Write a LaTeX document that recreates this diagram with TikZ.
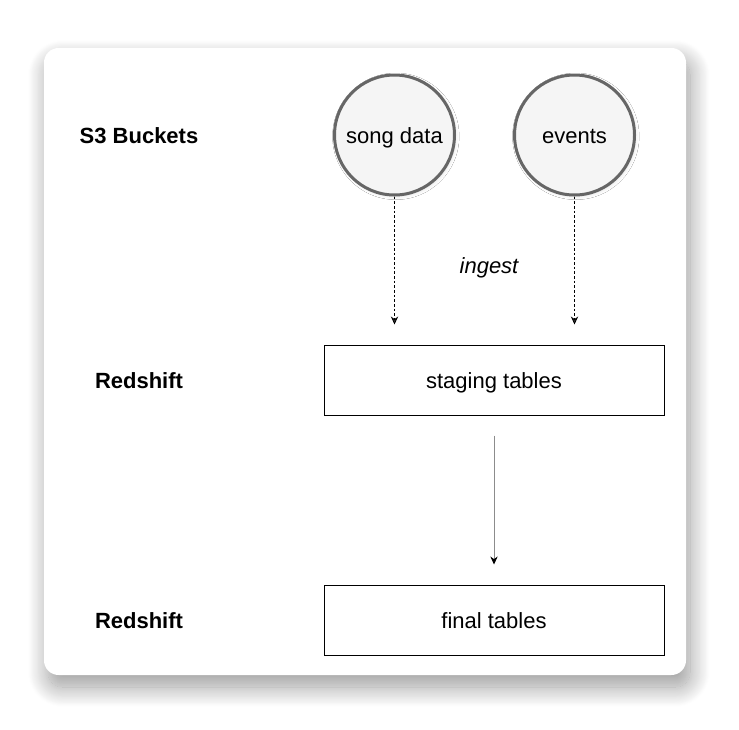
\documentclass[tikz,border=0pt]{standalone}
\usepackage{fontspec}
\setmainfont{Liberation Sans}
\usetikzlibrary{arrows.meta,shadows.blur}
\begin{document}
\begin{tikzpicture}[x=0.75pt, y=-0.75pt,
    every node/.style={font=\fontsize{16.5}{20}\selectfont},
    centred/.style ={text height=13pt, text depth=0pt},
    source/.style ={circle, centred, draw=black!60, line width=2.25pt, fill=black!4,
      inner sep=0pt, minimum size=90pt,
      blur shadow={shadow xshift=1pt, shadow yshift=-1pt, shadow blur radius=2.5pt,
        shadow blur steps=6, shadow opacity=12}},
    table/.style ={rectangle, centred, draw, line width=0.75pt, fill=white,
      minimum width=255pt, minimum height=52.5pt},
    layer/.style ={centred, font=\fontsize{16.5}{20}\selectfont\bfseries},
    ingestarrow/.style ={dash pattern=on 2pt off 1.5pt, line width=0.6pt,
      -{Stealth[length=6pt,width=5.5pt]}},
    loadarrow/.style ={draw=black!45, line width=0.75pt,
      -{Stealth[length=6pt,width=5.5pt,color=black]}}]
   \useasboundingbox (0,0) rectangle (739,729);
   % card
   \fill[white, rounded corners=11pt,
     blur shadow={shadow xshift=3pt, shadow yshift=-9pt, shadow blur radius=15pt,
       shadow blur steps=24, shadow opacity=40}]
     (44,48) rectangle (686,675);
   % layer labels
   \node[layer] (s3label)  at (139,135)  {S3 Buckets};
   \node[layer] (rs1label) at (139,380)  {Redshift};
   \node[layer] (rs2label) at (139,620)  {Redshift};
   % sources and tables
   \node[source] (song)    at (394.5,135)  {song data};
   \node[source] (events)  at (574.5,135)  {events};
   \node[table]  (staging) at (494,380)  {staging tables};
   \node[table]  (final)   at (494,620)  {final tables};
   \node[centred, font=\fontsize{16.5}{20}\selectfont\itshape] (ingest) at (489,265) {ingest};
   % connectors
   \draw[ingestarrow, shorten >=15pt] (song)   -- (song |- staging.north);
   \draw[ingestarrow, shorten >=15pt] (events) -- (events |- staging.north);
   \draw[loadarrow, shorten <=15pt, shorten >=15pt] (staging) -- (final);
 \end{tikzpicture}
\end{document}
